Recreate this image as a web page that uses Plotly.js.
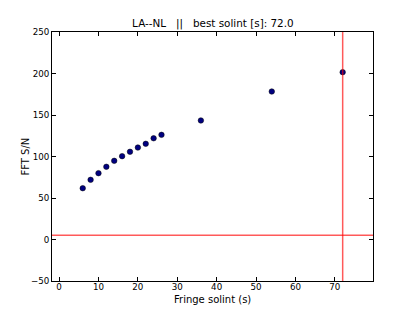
<!DOCTYPE html>
<html>
<head>
<meta charset="utf-8">
<script src="https://cdn.plot.ly/plotly-3.0.1.min.js"></script>
<style>html,body{margin:0;padding:0;background:#fff;}#chart{width:415px;height:312px;}</style>
</head>
<body>
<div id="chart"></div>
<script>
const solint = [6, 8, 10, 12, 14, 16, 18, 20, 22, 24, 26, 36, 54, 72];
const snr = [61.8, 71.9, 79.9, 87.6, 94.8, 100.4, 105.7, 110.8, 115.3, 122, 126.1, 143.4, 178.3, 201.6];
const bestSolint = 72.0;
const snrThreshold = 5;
const baselineName = 'LA--NL';

const font = {family: 'DejaVu Sans, sans-serif', color: '#000'};

Plotly.newPlot('chart', [{
  x: solint, y: snr, type: 'scatter', mode: 'markers',
  marker: {color: '#000080', size: 5.5, line: {color: '#000', width: 0.5}},
  hoverinfo: 'none'
}], {
  width: 415, height: 312,
  margin: {l: 52, r: 42, t: 32, b: 31},
  paper_bgcolor: '#fff', plot_bgcolor: '#fff',
  showlegend: false,
  title: {text: baselineName + '   ||   best solint [s]: ' + bestSolint.toFixed(1),
          font: Object.assign({size: 10.4}, font), x: 0.513, xanchor: 'center', y: 0.924, yanchor: 'middle'},
  xaxis: {range: [-1.8, 79.7], dtick: 10, tick0: 0, ticks: 'inside', ticklen: 4, tickcolor: '#000',
          mirror: 'ticks', showline: true, linecolor: '#000', linewidth: 1, showgrid: false, zeroline: false,
          ticklabelstandoff: -2,
          tickfont: Object.assign({size: 8.7}, font)},
  yaxis: {range: [-50, 250], dtick: 50, tick0: 0, ticks: 'inside', ticklen: 4, tickcolor: '#000',
          mirror: 'ticks', showline: true, linecolor: '#000', linewidth: 1, showgrid: false, zeroline: false,
          tickfont: Object.assign({size: 8.7}, font)},
  annotations: [
    {text: 'FFT S/N', textangle: -90, xref: 'paper', yref: 'paper', x: -0.081, y: 0.5,
     xanchor: 'center', yanchor: 'middle', showarrow: false, font: Object.assign({size: 10}, font)},
    {text: 'Fringe solint (s)', xref: 'paper', yref: 'paper', x: 0.5, y: -0.074,
     xanchor: 'center', yanchor: 'middle', showarrow: false, font: Object.assign({size: 10}, font)}
  ],
  shapes: [
    {type: 'line', xref: 'x', yref: 'paper', x0: bestSolint, x1: bestSolint, y0: 0, y1: 1,
     line: {color: 'rgba(255,0,0,0.65)', width: 1.5}},
    {type: 'line', xref: 'paper', yref: 'y', x0: 0, x1: 1, y0: snrThreshold, y1: snrThreshold,
     line: {color: 'rgba(255,0,0,0.65)', width: 1.5}}
  ]
}, {staticPlot: true, displayModeBar: false});
</script>
</body>
</html>
